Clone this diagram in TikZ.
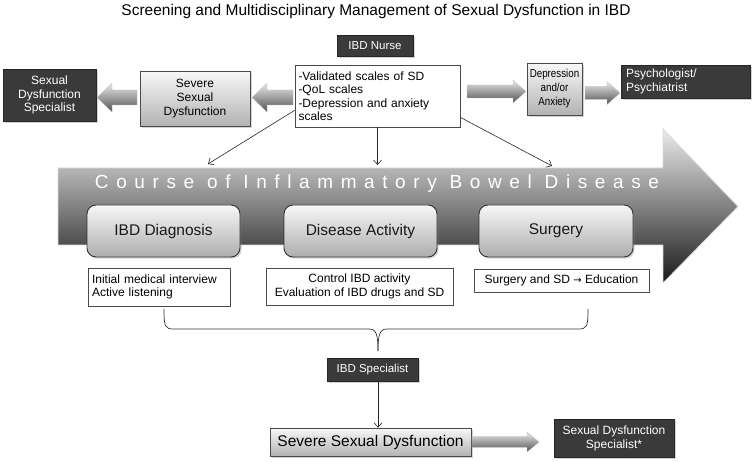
\documentclass[tikz,border=0pt]{standalone}
\usepackage{fontspec}
\setmainfont{Liberation Sans}
\newfontfamily\narrowsans[FakeStretch=0.85]{Liberation Sans}
\usetikzlibrary{arrows.meta,shadows,calc}
\definecolor{darkfill}{HTML}{3A3A3A}
\definecolor{framegray}{HTML}{4A4A4A}
\newcommand{\BlkArrow}[6]{% tail x, tip x, center y, shaft half, head half, head length (signed by direction)
  \shade[blockarrow] (#1,#3-#4) -- (#2-#6,#3-#4) -- (#2-#6,#3-#5) -- (#2,#3) -- (#2-#6,#3+#5) -- (#2-#6,#3+#4) -- (#1,#3+#4) -- cycle;}
\begin{document}
\begin{tikzpicture}[x=1pt,y=-1pt,
  font=\fontsize{12}{13.5}\selectfont,
  base/.style={inner sep=0pt, align=center},
  shadowed/.style={drop shadow={opacity=0.35,shadow xshift=1.6pt,shadow yshift=-1.6pt}},
  darkbox/.style={base, fill=darkfill, draw=black!85, line width=0.6pt, text=white, shadowed},
  graybox/.style={base, top color=black!3, bottom color=black!30, draw=framegray, line width=0.7pt, shadowed},
  whitebox/.style={base, fill=white, draw=framegray, line width=0.7pt},
  roundbox/.style={base, rounded corners=9pt, top color=black!3, bottom color=black!32, draw=black!80, line width=0.9pt, shadowed, font=\fontsize{15.5}{17}\selectfont, text=black!90},
  blockarrow/.style={top color=black!8, bottom color=black!68, draw=black!25, line width=0.3pt},
  bigarrow/.style={top color=black!8, bottom color=black!90, draw=black!15, line width=0.8pt},
  thinarrow/.style={draw=black!85, line width=0.6pt, -{Straight Barb[length=4.5pt,width=8pt]}},
  bracestyle/.style={draw=black!80, line width=0.7pt},
]
\useasboundingbox (0,0) rectangle (753,462);

% title
\node[base, font=\fontsize{15.5}{17}\selectfont] (title) at (376,11) {Screening and Multidisciplinary Management of Sexual Dysfunction in IBD};

% top row
\node[darkbox, minimum width=76, minimum height=21, font=\fontsize{11.5}{13}\selectfont] (nurse) at (375,45.5) {IBD Nurse};
\node[whitebox, minimum width=165, minimum height=62, text width=158, align=left] (scales) at (377.5,96)
  {-Validated scales of SD\\-QoL scales\\-Depression and anxiety\\scales};
\node[graybox, minimum width=110, minimum height=55, font=\fontsize{12}{14}\selectfont] (sev1) at (195,98.5) {Severe\\Sexual\\Dysfunction};
\node[darkbox, minimum width=93, minimum height=52, font=\fontsize{12}{13.5}\selectfont] (sds1) at (49.5,95) {Sexual\\Dysfunction\\Specialist};
\node[graybox, minimum width=55, minimum height=52, font=\narrowsans\fontsize{11.5}{14}\selectfont] (dep) at (554.5,89) {Depression\\and/or\\Anxiety};
\node[darkbox, minimum width=129, minimum height=33, text width=119, align=left, font=\fontsize{12}{13.5}\selectfont] (psy) at (685.5,81.5) {Psychologist/\\Psychiatrist};

% block arrows, top row
\BlkArrow{293}{252}{97.5}{7.5}{14.5}{-15}
\BlkArrow{137}{97}{97.5}{7.5}{14.5}{-15}
\BlkArrow{467}{526}{91.5}{6.5}{11.5}{13}
\BlkArrow{585}{620}{93}{6.5}{11.5}{13}

% big arrow
\shade[bigarrow] (58,168) -- (663,168) -- (663,129) -- (738,206.5) -- (663,283) -- (663,245) -- (58,245) -- cycle;
\node[base, text=white, font=\fontsize{19}{21}\selectfont\addfontfeatures{LetterSpace=40}] (course) at (377,184) {Course of Inflammatory Bowel Disease};

% stage boxes
\node[roundbox, minimum width=153, minimum height=52] (diag) at (163.5,231) {IBD Diagnosis};
\node[roundbox, minimum width=153, minimum height=52] (act) at (360.5,231) {Disease Activity};
\node[roundbox, minimum width=154, minimum height=52] (surg) at (556,231) {Surgery};

\node[whitebox, minimum width=142, minimum height=38, text width=134, align=left] (t1) at (159,287) {Initial medical interview\\Active listening};
\node[whitebox, minimum width=187, minimum height=37] (t2) at (359.5,286.5) {Control IBD activity\\Evaluation of IBD drugs and SD};
\node[whitebox, minimum width=175, minimum height=23] (t3) at (561.5,280.5) {Surgery and SD {\fontspec{DejaVu Sans}\fontsize{10}{12}\selectfont→} Education};

% arrows from screening box
\coordinate (e1) at (208,164);
\coordinate (e2) at (377.5,165);
\coordinate (e3) at (552,166);
\draw[thinarrow] ($(scales.south west)+(0,-17)$) -- (e1);
\draw[thinarrow] (scales.south) -- (e2);
\draw[thinarrow] ($(scales.south east)+(0,-10)$) -- (e3);

% brace
\coordinate (bt) at (378,351);
\draw[bracestyle] (164,309) .. controls (164,327) and (165,329) .. (174,329) -- (369,329) .. controls (376,329) and (378,334) .. (bt);
\draw[bracestyle] (588,309) .. controls (588,327) and (587,329) .. (578,329) -- (387,329) .. controls (380,329) and (378,334) .. (bt);

% bottom
\node[darkbox, minimum width=91, minimum height=23, font=\fontsize{11.5}{13}\selectfont] (ibds) at (372.5,369.5) {IBD Specialist};
\node[graybox, minimum width=201, minimum height=28, font=\fontsize{15.5}{17}\selectfont] (sev2) at (370.5,442) {Severe Sexual Dysfunction};
\node[darkbox, minimum width=120, minimum height=38, font=\fontsize{12}{14}\selectfont] (sds2) at (614,438) {Sexual Dysfunction\\Specialist*};
\draw[thinarrow] (ibds.south -| bt) -- (sev2.north -| bt);
\BlkArrow{472}{539}{442}{5.5}{10}{12}
\end{tikzpicture}
\end{document}
